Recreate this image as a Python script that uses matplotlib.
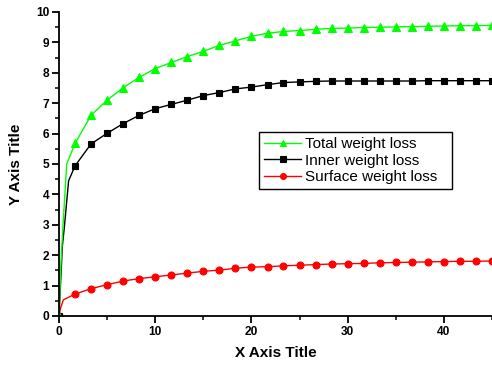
import numpy as np
import matplotlib.pyplot as plt

plt.rcParams['font.family'] = ['Liberation Sans', 'DejaVu Sans']

# 数据点，x 间隔约 5/3
x_pts = [0, 1.67, 3.33, 5, 6.67, 8.33, 10, 11.67, 13.33, 15, 16.67, 18.33, 20,
         21.67, 23.33, 25, 26.67, 28.33, 30, 31.67, 33.33, 35, 36.67, 38.33, 40,
         41.67, 43.33, 45]
total_loss = [0, 5.68, 6.6, 7.1, 7.51, 7.85, 8.14, 8.34, 8.53, 8.71, 8.9, 9.05, 9.2,
              9.3, 9.36, 9.39, 9.43, 9.46, 9.47, 9.49, 9.5, 9.51, 9.52, 9.53, 9.54,
              9.55, 9.55, 9.56]
inner_loss = [0, 4.94, 5.66, 6.01, 6.33, 6.6, 6.82, 6.96, 7.1, 7.25, 7.35, 7.47, 7.53,
              7.61, 7.68, 7.7, 7.72, 7.73, 7.73, 7.73, 7.73, 7.73, 7.73, 7.74, 7.74,
              7.74, 7.74, 7.74]
surface_loss = [0, 0.72, 0.9, 1.03, 1.15, 1.23, 1.29, 1.35, 1.41, 1.47, 1.51, 1.57, 1.61,
                1.62, 1.65, 1.67, 1.69, 1.71, 1.72, 1.73, 1.75, 1.76, 1.77, 1.78, 1.79,
                1.8, 1.8, 1.81]

# 原点附近曲线的额外读数（只用于连线，不画标记）
total_near_x = [0.2, 0.4, 0.8]
total_near_y = [1.7, 2.9, 5.0]
inner_near_x = [0.35, 0.55, 1.0]
inner_near_y = [2.3, 2.9, 4.45]
surface_near_x = [0.15, 0.45]
surface_near_y = [0.25, 0.53]

series = [
    ("Total weight loss", total_loss, total_near_x, total_near_y, '#00ff00', '^', 5.8),
    ("Inner weight loss", inner_loss, inner_near_x, inner_near_y, 'black', 's', 4.4),
    ("Surface weight loss", surface_loss, surface_near_x, surface_near_y, '#ff0000', 'o', 5.0),
]

fig = plt.figure(figsize=(4.92, 3.70), dpi=100)
ax = fig.add_axes([59 / 492, 54 / 370, 433 / 492, 304 / 370])

handles = []
# 反向绘制，让绿色在最上层
for label, ys, nx, ny, color, marker, ms in reversed(series):
    lx = [x_pts[0]] + nx + x_pts[1:]
    ly = [ys[0]] + ny + ys[1:]
    ax.plot(lx, ly, color=color, linewidth=1.0)
    ax.plot(x_pts, ys, linestyle='none', marker=marker, markersize=ms,
            markeredgewidth=0.8, color=color)
for label, ys, nx, ny, color, marker, ms in series:
    h, = ax.plot([], [], color=color, linewidth=1.0, marker=marker,
                 markersize=ms * 0.85, markeredgewidth=0.8, label=label)
    handles.append(h)

ax.set_xlim(0, 45)
ax.set_ylim(0, 10)
ax.set_xticks([0, 10, 20, 30, 40])
ax.set_xticks([5, 15, 25, 35, 45], minor=True)
ax.set_yticks(range(0, 11))
ax.set_yticks(np.arange(0.5, 10, 1), minor=True)

for s in ['top', 'right']:
    ax.spines[s].set_visible(False)
for s in ['left', 'bottom']:
    ax.spines[s].set_linewidth(1.3)

ax.tick_params(which='major', direction='out', length=5, width=1.3,
               labelsize=8.6, pad=2)
ax.tick_params(which='minor', direction='out', length=3, width=1.1)
for t in ax.get_xticklabels() + ax.get_yticklabels():
    t.set_fontweight('bold')

ax.set_xlabel('X Axis Title', fontsize=11, fontweight='bold', labelpad=6)
ax.set_ylabel('Y Axis Title', fontsize=11, fontweight='bold', labelpad=9)

# 图例框：左 259, 上 132, 右 452, 下 192（像素）
leg = ax.legend(handles=handles, loc='upper left', mode='expand',
                bbox_to_anchor=(259 / 492, 1 - 192 / 370, 193 / 492, 60 / 370),
                bbox_transform=fig.transFigure,
                borderaxespad=0, fancybox=False, framealpha=1, edgecolor='black',
                prop={'size': 11}, handlelength=2.4, handletextpad=0.25,
                labelspacing=0.15, borderpad=0.35)
leg.get_frame().set_linewidth(1.0)

fig.savefig('out.png', dpi=100)
